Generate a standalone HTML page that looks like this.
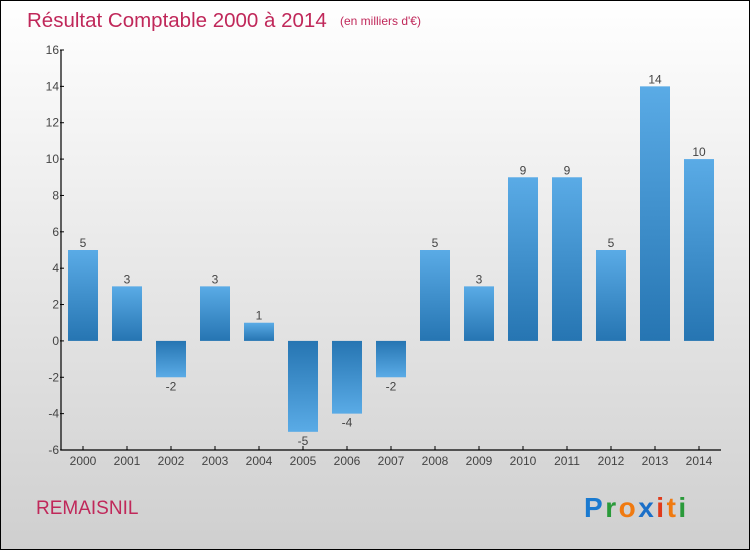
<!DOCTYPE html>
<html><head><meta charset="utf-8"><style>
body{margin:0}
svg{display:block;font-family:"Liberation Sans","DejaVu Sans",sans-serif}
</style></head><body>
<svg id="chart" width="750" height="550" xmlns="http://www.w3.org/2000/svg">
<defs>
<linearGradient id="bg" x1="0" y1="0" x2="0" y2="1"><stop offset="0" stop-color="#ffffff"/><stop offset="1" stop-color="#cfcfcf"/></linearGradient>
<linearGradient id="pos" x1="0" y1="0" x2="0" y2="1"><stop offset="0" stop-color="#5aabe6"/><stop offset="1" stop-color="#2675b2"/></linearGradient>
<linearGradient id="neg" x1="0" y1="0" x2="0" y2="1"><stop offset="0" stop-color="#2675b2"/><stop offset="1" stop-color="#5aabe6"/></linearGradient>
</defs>
<rect x="0.5" y="0.5" width="749" height="549" fill="url(#bg)" stroke="#000"/>
<text x="27" y="27" font-size="20.5" fill="#c0285a">Résultat Comptable 2000 à 2014</text>
<text x="340" y="25" font-size="12" fill="#c0285a">(en milliers d'€)</text>
<text x="36" y="514" font-size="19" fill="#c0285a">REMAISNIL</text>
<g font-size="28" font-weight="bold">
<text x="584" y="517" letter-spacing="2.5"><tspan fill="#1a7ad0">P</tspan><tspan fill="#2a9a3a">r</tspan><tspan fill="#f07a10">o</tspan><tspan fill="#1a6fc8">x</tspan><tspan fill="#e03a1a">i</tspan><tspan fill="#f07a10">t</tspan><tspan fill="#2a9a3a">i</tspan></text>
</g>
<g id="plot"></g>
</svg>
<script>
const categories=["2000","2001","2002","2003","2004","2005","2006","2007","2008","2009","2010","2011","2012","2013","2014"];
const values=[5,3,-2,3,1,-5,-4,-2,5,3,9,9,5,14,10];
const yTicks=[-6,-4,-2,0,2,4,6,8,10,12,14,16];
const NS="http://www.w3.org/2000/svg";
const plotG=document.getElementById('plot');
const X0=61,X1=721,Y_MIN=-6,Y_MAX=16,P_TOP=50,P_BOT=450;
const yScale=v=>P_BOT-(v-Y_MIN)/(Y_MAX-Y_MIN)*(P_BOT-P_TOP);
const step=(X1-X0)/categories.length;
const xc=i=>X0+step*(i+0.5);
function mk(t,a){const e=document.createElementNS(NS,t);for(const k in a)e.setAttribute(k,a[k]);plotG.appendChild(e);return e;}
const ax=mk('line',{x1:X0,y1:P_TOP,x2:X0,y2:P_BOT,stroke:'#000','stroke-width':1.2});


const bx=mk('line',{x1:X0,y1:P_BOT,x2:X1,y2:P_BOT,stroke:'#000','stroke-width':1.2});


yTicks.forEach(t=>{
 const tk=mk('line',{x1:X0-1,y1:yScale(t),x2:X0+3,y2:yScale(t),stroke:'#000'});
 
 
 const l=mk('text',{x:X0-2,y:yScale(t)+4,'font-size':12,fill:'#444','text-anchor':'end'});
 l.textContent=t;
 
 
});
categories.forEach((c,i)=>{
 const v=values[i],cx=xc(i),w=30;
 const r=mk('rect',{x:cx-w/2,y:Math.min(yScale(v),yScale(0)),width:w,height:Math.abs(yScale(v)-yScale(0)),fill:v>=0?'url(#pos)':'url(#neg)'});
 
 
 const vl=mk('text',{x:cx,y:v>=0?yScale(v)-3:yScale(v)+13,'font-size':12,fill:'#444','text-anchor':'middle'});
 vl.textContent=v;
 
 
 const tk=mk('line',{x1:cx,y1:P_BOT-4,x2:cx,y2:P_BOT,stroke:'#000'});
 
 
 const xl=mk('text',{x:cx,y:P_BOT+15,'font-size':12,fill:'#444','text-anchor':'middle'});
 xl.textContent=c;
 
 
});
</script>
</body></html>
